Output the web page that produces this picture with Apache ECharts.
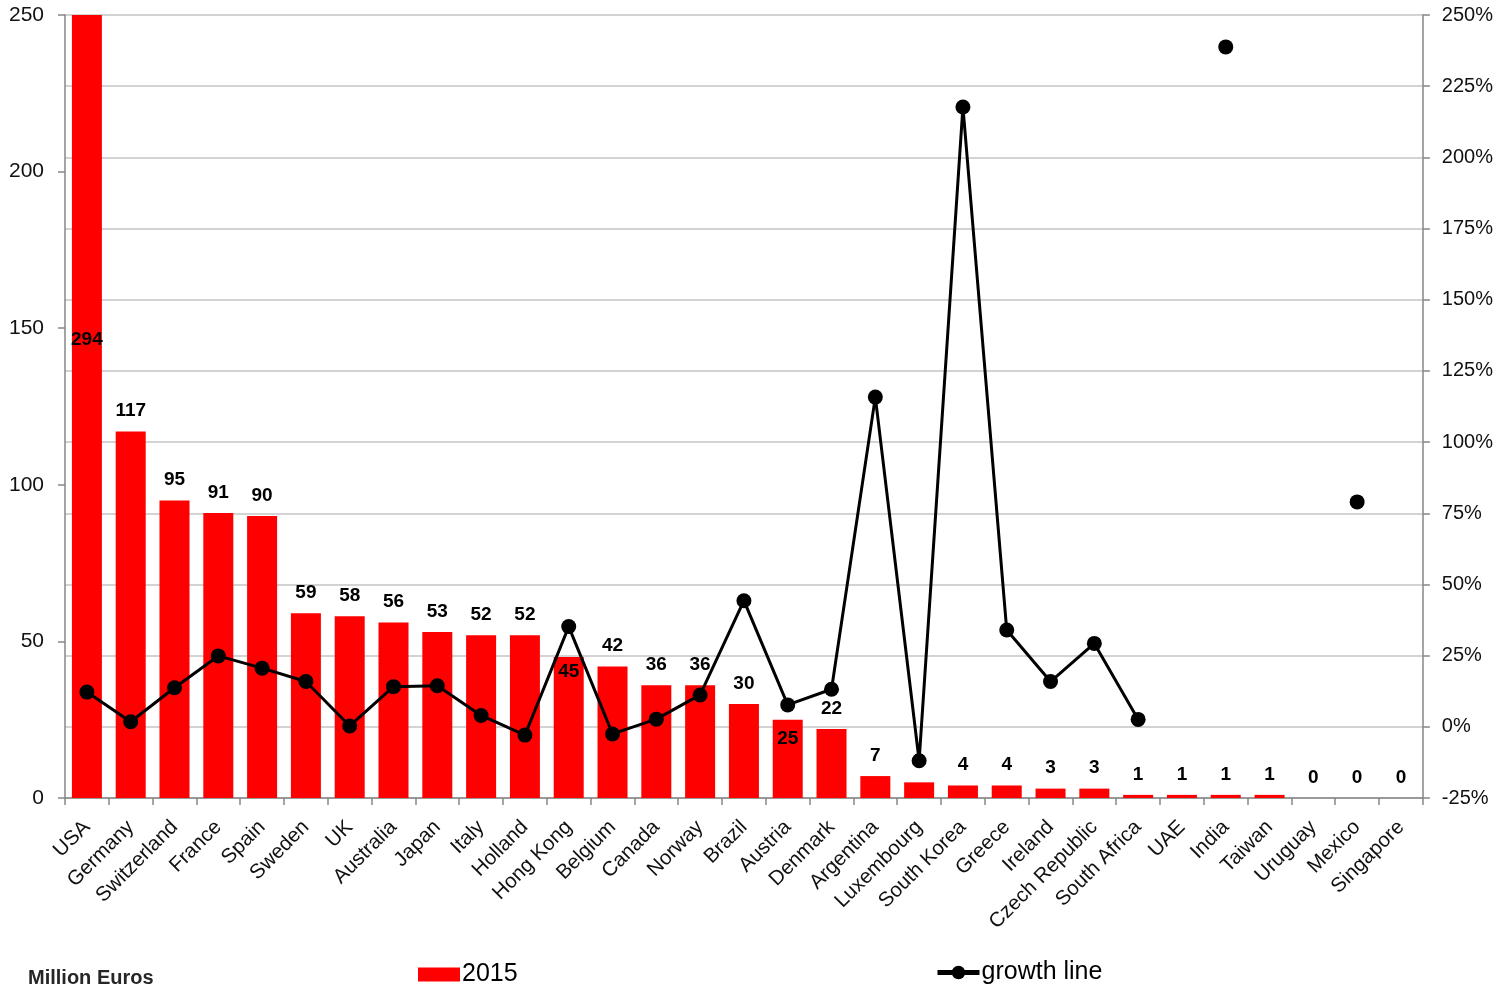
<!DOCTYPE html>
<html>
<head>
<meta charset="utf-8">
<script src="https://cdn.jsdelivr.net/npm/echarts@6.0.0/dist/echarts.min.js"></script>
<style>
  html, body { margin: 0; padding: 0; background: #fff; }
  #chart { width: 1496px; height: 996px; }
</style>
</head>
<body>
<div id="chart"></div>
<script>
// Market size per country (million euros) and year-on-year growth
const countries = ['USA', 'Germany', 'Switzerland', 'France', 'Spain', 'Sweden', 'UK', 'Australia',
  'Japan', 'Italy', 'Holland', 'Hong Kong', 'Belgium', 'Canada', 'Norway', 'Brazil', 'Austria',
  'Denmark', 'Argentina', 'Luxembourg', 'South Korea', 'Greece', 'Ireland', 'Czech Republic',
  'South Africa', 'UAE', 'India', 'Taiwan', 'Uruguay', 'Mexico', 'Singapore'];

const sales2015 = [294, 117, 95, 91, 90, 59, 58, 56, 53, 52, 52, 45, 42, 36, 36, 30, 25, 22, 7, 5,
  4, 4, 3, 3, 1, 1, 1, 1, 0, 0, 0];

// growth in percent; null where no growth figure exists
const growthPct = [12.2, 1.8, 13.7, 24.9, 20.6, 15.9, 0.3, 14.1, 14.4, 4.0, -2.9, 35.2, -2.5, 2.7,
  11.2, 44.3, 7.7, 13.2, 115.8, -11.9, 217.7, 34.0, 15.9, 29.3, 2.6, null, 238.8, null, null, 79.0, null];

const salesAxis = { min: 0, max: 250, interval: 50 };
const growthAxis = { min: -25, max: 250, interval: 25 };

const font = "'Liberation Sans', Arial, sans-serif";

// labels that sit inside the bar instead of above it;
// the USA bar runs past the axis top, so its label is lifted to the middle of the full bar
const labelPlacement = {
  'USA': { position: 'inside', offset: [0, -67] },
  'Hong Kong': { position: 'insideTop', distance: 5 },
  'Austria': { position: 'insideTop', distance: 10 }
};

const barData = sales2015.map((v, i) => {
  const p = labelPlacement[countries[i]];
  return p ? { value: v, label: p } : v;
});

const chart = echarts.init(document.getElementById('chart'), null, { renderer: 'canvas' });

chart.setOption({
  animation: false,
  backgroundColor: '#ffffff',
  grid: { left: 65, right: 73, top: 15, bottom: 198, containLabel: false },
  legend: [
    {
      data: [{ name: '2015', icon: 'rect' }],
      left: 418, top: 962, padding: 0,
      itemWidth: 42, itemHeight: 14,
      textStyle: { fontFamily: font, fontSize: 25, color: '#000', padding: [0, 0, 0, -3] }
    },
    {
      data: [{ name: 'growth line', lineStyle: { width: 5 } }],
      left: 935, top: 960, padding: 0,
      itemWidth: 42, itemHeight: 17,
      textStyle: { fontFamily: font, fontSize: 25, color: '#000', padding: [0, 0, 0, -3] }
    }
  ],
  graphic: [{
    type: 'text', left: 28, top: 968,
    style: { text: 'Million Euros', font: "bold 20px 'Liberation Sans', Arial, sans-serif", fill: '#262626' }
  }],
  xAxis: {
    type: 'category',
    data: countries,
    axisLine: { show: true, lineStyle: { color: '#868686', width: 1.5 } },
    axisTick: { show: true, alignWithLabel: false, interval: 0, length: 7, lineStyle: { color: '#868686', width: 1.5 } },
    axisLabel: { interval: 0, rotate: 45, fontFamily: font, fontSize: 20.5, color: '#111', margin: 26 },
    splitLine: { show: false }
  },
  yAxis: [
    {
      type: 'value', position: 'left',
      min: salesAxis.min, max: salesAxis.max, interval: salesAxis.interval,
      axisLine: { show: true, lineStyle: { color: '#868686', width: 1.5 } },
      axisTick: { show: true, inside: false, length: 7, lineStyle: { color: '#868686', width: 1.5 } },
      axisLabel: { fontFamily: font, fontSize: 21, color: '#111', margin: 21 },
      splitLine: { show: false }
    },
    {
      type: 'value', position: 'right',
      min: growthAxis.min, max: growthAxis.max, interval: growthAxis.interval,
      axisLine: { show: true, lineStyle: { color: '#868686', width: 1.5 } },
      axisTick: { show: true, inside: false, length: 7, lineStyle: { color: '#868686', width: 1.5 } },
      axisLabel: { fontFamily: font, fontSize: 20, color: '#111', margin: 19, formatter: '{value}%' },
      splitLine: { show: true, lineStyle: { color: '#c4c4c4', width: 1.5 } }
    }
  ],
  series: [
    {
      name: '2015',
      type: 'bar',
      yAxisIndex: 0,
      data: barData,
      barWidth: 30,
      z: 2,
      itemStyle: { color: '#ff0000' },
      label: {
        show: true, position: 'top', distance: 11,
        fontFamily: font, fontWeight: 'bold', fontSize: 19, color: '#000'
      }
    },
    {
      name: 'growth line',
      type: 'line',
      yAxisIndex: 1,
      data: growthPct,
      connectNulls: false,
      z: 5,
      symbol: 'circle',
      symbolSize: 15,
      showSymbol: true,
      showAllSymbol: true,
      lineStyle: { color: '#000', width: 3 },
      itemStyle: { color: '#000' }
    }
  ]
});
</script>
</body>
</html>
